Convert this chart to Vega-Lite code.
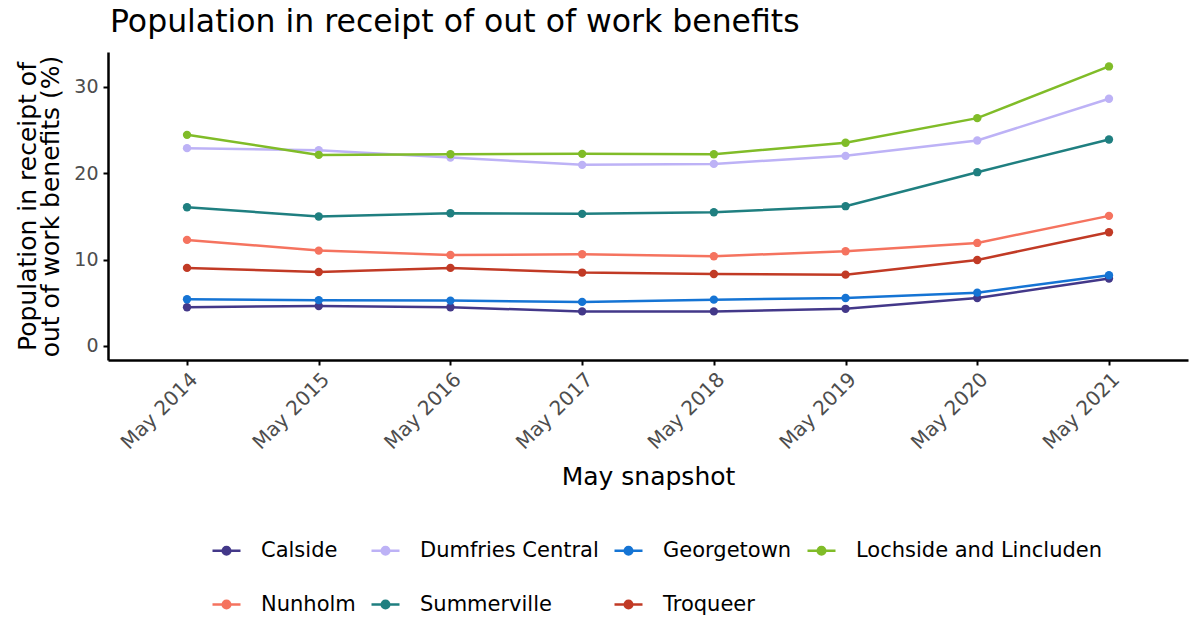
{
  "$schema": "https://vega.github.io/schema/vega-lite/v6.json",
  "width": 1080,
  "height": 308,
  "autosize": {"type": "none"},
  "padding": {"left": 108, "top": 52, "right": 1, "bottom": 258},
  "background": "white",
  "config": {
    "font": "DejaVu Sans",
    "view": {"stroke": null},
    "axis": {"grid": false, "domainColor": "black", "domainWidth": 2.5, "tickColor": "black", "tickWidth": 2, "tickSize": 5, "labelColor": "#4d4d4d", "labelFontSize": 19, "titleFontSize": 25, "titleFontWeight": "normal", "titleColor": "black", "labelFont": "DejaVu Sans", "titleFont": "DejaVu Sans"}
  },
  "title": {"text": "Population in receipt of out of work benefits", "anchor": "start", "frame": "group", "fontSize": 31.5, "fontWeight": "normal", "font": "DejaVu Sans", "color": "black", "offset": 14, "dx": 2},
  "data": {"values": [
    {"year": "May 2014", "area": "Calside", "value": 4.48},
    {"year": "May 2015", "area": "Calside", "value": 4.63},
    {"year": "May 2016", "area": "Calside", "value": 4.48},
    {"year": "May 2017", "area": "Calside", "value": 4.0},
    {"year": "May 2018", "area": "Calside", "value": 4.0},
    {"year": "May 2019", "area": "Calside", "value": 4.3},
    {"year": "May 2020", "area": "Calside", "value": 5.55},
    {"year": "May 2021", "area": "Calside", "value": 7.8},
    {"year": "May 2014", "area": "Dumfries Central", "value": 22.88},
    {"year": "May 2015", "area": "Dumfries Central", "value": 22.65},
    {"year": "May 2016", "area": "Dumfries Central", "value": 21.8},
    {"year": "May 2017", "area": "Dumfries Central", "value": 20.95},
    {"year": "May 2018", "area": "Dumfries Central", "value": 21.06},
    {"year": "May 2019", "area": "Dumfries Central", "value": 21.99},
    {"year": "May 2020", "area": "Dumfries Central", "value": 23.77},
    {"year": "May 2021", "area": "Dumfries Central", "value": 28.59},
    {"year": "May 2014", "area": "Georgetown", "value": 5.4},
    {"year": "May 2015", "area": "Georgetown", "value": 5.3},
    {"year": "May 2016", "area": "Georgetown", "value": 5.25},
    {"year": "May 2017", "area": "Georgetown", "value": 5.1},
    {"year": "May 2018", "area": "Georgetown", "value": 5.36},
    {"year": "May 2019", "area": "Georgetown", "value": 5.55},
    {"year": "May 2020", "area": "Georgetown", "value": 6.17},
    {"year": "May 2021", "area": "Georgetown", "value": 8.18},
    {"year": "May 2014", "area": "Lochside and Lincluden", "value": 24.42},
    {"year": "May 2015", "area": "Lochside and Lincluden", "value": 22.1},
    {"year": "May 2016", "area": "Lochside and Lincluden", "value": 22.18},
    {"year": "May 2017", "area": "Lochside and Lincluden", "value": 22.22},
    {"year": "May 2018", "area": "Lochside and Lincluden", "value": 22.18},
    {"year": "May 2019", "area": "Lochside and Lincluden", "value": 23.5},
    {"year": "May 2020", "area": "Lochside and Lincluden", "value": 26.35},
    {"year": "May 2021", "area": "Lochside and Lincluden", "value": 32.33},
    {"year": "May 2014", "area": "Nunholm", "value": 12.27},
    {"year": "May 2015", "area": "Nunholm", "value": 11.03},
    {"year": "May 2016", "area": "Nunholm", "value": 10.53},
    {"year": "May 2017", "area": "Nunholm", "value": 10.61},
    {"year": "May 2018", "area": "Nunholm", "value": 10.38},
    {"year": "May 2019", "area": "Nunholm", "value": 10.96},
    {"year": "May 2020", "area": "Nunholm", "value": 11.92},
    {"year": "May 2021", "area": "Nunholm", "value": 15.05},
    {"year": "May 2014", "area": "Summerville", "value": 16.05},
    {"year": "May 2015", "area": "Summerville", "value": 14.97},
    {"year": "May 2016", "area": "Summerville", "value": 15.35},
    {"year": "May 2017", "area": "Summerville", "value": 15.28},
    {"year": "May 2018", "area": "Summerville", "value": 15.47},
    {"year": "May 2019", "area": "Summerville", "value": 16.17},
    {"year": "May 2020", "area": "Summerville", "value": 20.1},
    {"year": "May 2021", "area": "Summerville", "value": 23.88},
    {"year": "May 2014", "area": "Troqueer", "value": 9.03},
    {"year": "May 2015", "area": "Troqueer", "value": 8.56},
    {"year": "May 2016", "area": "Troqueer", "value": 9.03},
    {"year": "May 2017", "area": "Troqueer", "value": 8.49},
    {"year": "May 2018", "area": "Troqueer", "value": 8.33},
    {"year": "May 2019", "area": "Troqueer", "value": 8.25},
    {"year": "May 2020", "area": "Troqueer", "value": 9.95},
    {"year": "May 2021", "area": "Troqueer", "value": 13.15}
  ]},
  "encoding": {
    "x": {"field": "year", "type": "ordinal", "scale": {"type": "point", "padding": 0.6},
      "axis": {"title": "May snapshot", "labelAngle": -45, "labelAlign": "right", "labelBaseline": "top", "labelPadding": 4, "labelFontSize": 20, "titlePadding": 12}},
    "y": {"field": "value", "type": "quantitative", "scale": {"domain": [-1.62, 34.0], "nice": false, "zero": false},
      "axis": {"title": ["Population in receipt of", "out of work benefits (%)"], "values": [0, 10, 20, 30], "labelPadding": 5, "titlePadding": 10, "titleLineHeight": 23}},
    "color": {"field": "area", "type": "nominal",
      "scale": {"domain": ["Calside", "Dumfries Central", "Georgetown", "Lochside and Lincluden", "Nunholm", "Summerville", "Troqueer"],
        "range": ["#433889", "#bdb2f6", "#1574d4", "#80bc28", "#f5735f", "#1f7f80", "#c13a25"]},
      "legend": {"title": null, "orient": "none", "legendX": 103, "legendY": 483, "direction": "horizontal", "columns": 4, "labelFontSize": 21, "labelLimit": 500, "labelColor": "black", "labelFont": "DejaVu Sans", "symbolType": "M -1 0 L 1 0 M -0.27 0 A 0.27 0.27 0 1 1 0.27 0 A 0.27 0.27 0 1 1 -0.27 0", "symbolSize": 784, "symbolStrokeWidth": 2.5, "labelOffset": 19, "columnPadding": 10, "rowPadding": 28,
        "encode": {"symbols": {"update": {"stroke": {"scale": "color", "field": "value"}, "fill": {"scale": "color", "field": "value"}, "opacity": {"value": 1}}}}}
    }
  },
  "layer": [
    {"mark": {"type": "line", "strokeWidth": 2.5}},
    {"mark": {"type": "point", "filled": true, "size": 70, "opacity": 1}}
  ]
}
